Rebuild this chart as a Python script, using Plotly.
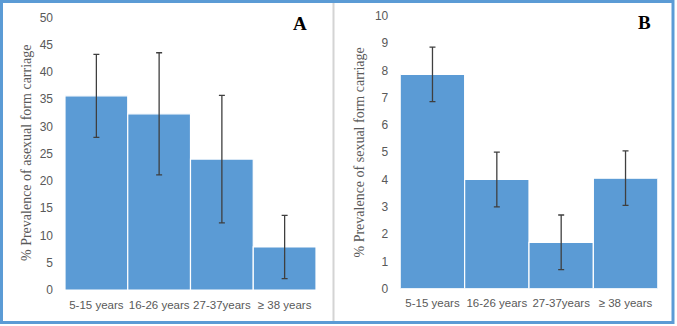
import plotly.graph_objects as go

categories = ["5-15 years", "16-26 years", "27-37years", "≥ 38 years"]
asexual_values = [35.6, 32.3, 24.0, 7.9]
asexual_errors = [7.6, 11.2, 11.7, 5.8]
sexual_values = [7.85, 4.0, 1.7, 4.05]
sexual_errors = [1.0, 1.0, 1.0, 1.0]

W, H = 677, 326
BAR = "#5B9BD5"
GRAY = "#595959"

def px(x):
    return x / W

def py(y):
    return 1 - y / H

fig = go.Figure()
for vals, errs, xa, ya in [(asexual_values, asexual_errors, "x", "y"),
                           (sexual_values, sexual_errors, "x2", "y2")]:
    fig.add_trace(go.Bar(
        x=categories, y=vals, xaxis=xa, yaxis=ya,
        marker=dict(color=BAR, line=dict(color="white", width=1.2)),
        error_y=dict(type="data", array=errs, visible=True,
                     color="#3f3f3f", thickness=1.3, width=3),
        showlegend=False,
    ))

tickfont = dict(family="Liberation Sans, Arial, sans-serif", size=11.5, color=GRAY)
ytickfont = dict(family="Liberation Sans, Arial, sans-serif", size=12, color=GRAY)
common_x = dict(type="category", showgrid=False, showline=False, zeroline=False,
                ticks="", tickfont=tickfont, ticklabelstandoff=6, fixedrange=True,
                automargin=False)
common_y = dict(showgrid=False, showline=False, zeroline=False, ticks="",
                tickfont=ytickfont, ticklabelstandoff=11, fixedrange=True,
                automargin=False)

fig.update_layout(
    width=W, height=H,
    margin=dict(l=0, r=0, t=0, b=0),
    paper_bgcolor="white", plot_bgcolor="white",
    bargap=0,
    xaxis=dict(domain=[px(65), px(316)], anchor="y", **common_x),
    yaxis=dict(domain=[py(290), py(17.3)], range=[0, 50], dtick=5, anchor="x", **common_y),
    xaxis2=dict(domain=[px(400.3), px(657.7)], anchor="y2", **common_x),
    yaxis2=dict(domain=[py(288.7), py(15.7)], range=[0, 10], dtick=1, anchor="x2", **common_y),
)

titlefont = dict(family="Liberation Serif, Times New Roman, serif", size=14, color=GRAY)
fig.add_annotation(text="% Prevalence of asexual form carriage", textangle=-90,
                   x=px(27), y=py(153), xref="paper", yref="paper",
                   showarrow=False, font=titlefont, xanchor="center", yanchor="middle")
fig.add_annotation(text="% Prevalence of sexual form carriage", textangle=-90,
                   x=px(358.5), y=py(152), xref="paper", yref="paper",
                   showarrow=False, font=titlefont, xanchor="center", yanchor="middle")

letterfont = dict(family="Liberation Serif, Times New Roman, serif", size=19, color="black")
fig.add_annotation(text="<b>A</b>", x=px(300), y=py(23), xref="paper", yref="paper",
                   showarrow=False, font=letterfont, xanchor="center", yanchor="middle")
fig.add_annotation(text="<b>B</b>", x=px(644), y=py(22.5), xref="paper", yref="paper",
                   showarrow=False, font=letterfont, xanchor="center", yanchor="middle")

fig.add_shape(type="line", xref="paper", yref="paper",
              x0=px(333.5), x1=px(333.5), y0=py(3), y1=py(321),
              line=dict(color="#d4d4d4", width=2))
fig.add_shape(type="rect", xref="paper", yref="paper",
              x0=px(1.5), x1=px(673), y0=py(322.5), y1=py(1.5),
              line=dict(color=BAR, width=3))

fig.write_html(
    "out.html",
    config={"displayModeBar": False, "staticPlot": True},
    post_script="document.body.style.margin='0';document.body.style.padding='0';document.body.style.overflow='hidden';",
)
